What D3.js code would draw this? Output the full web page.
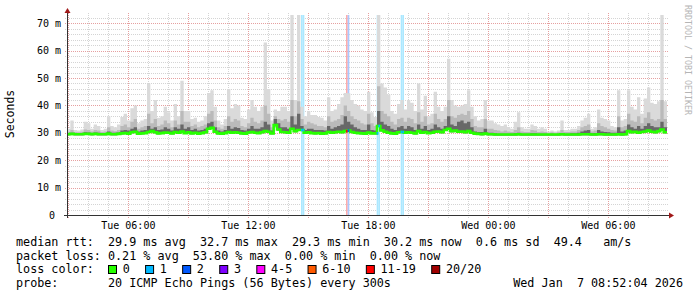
<!DOCTYPE html>
<html>
<head>
<meta charset="utf-8">
<script src="https://cdn.jsdelivr.net/npm/d3@7"></script>
<style>
  body { margin: 0; background: #fff; }
  svg text { font-family: "DejaVu Sans Mono", monospace; white-space: pre; }
</style>
</head>
<body>
<div id="chart"></div>
<script>
// smokeping round trip times in ms, one value per 10 minutes, Tue 02:56 .. Wed 08:56
const medianRtt = [
  29.5, 29.6, 29.5, 29.5, 29.5, 29.6, 29.6, 29.5, 29.6, 29.5,
  29.5, 29.5, 29.7, 29.5, 29.5, 29.6, 29.8, 29.9, 29.7, 30.2,
  30.4, 29.7, 29.8, 29.9, 30.3, 30.6, 30.2, 29.8, 29.9, 30.1,
  30.0, 29.8, 30.3, 30.0, 30.5, 29.9, 30.2, 29.8, 30.0, 29.7,
  29.9, 30.2, 31.5, 31.8, 30.4, 29.8, 29.7, 29.9, 30.3, 30.0,
  30.2, 30.0, 29.8, 29.7, 30.1, 30.3, 30.0, 29.9, 30.2, 30.6,
  30.4, 29.8, 32.8, 31.2, 30.3, 30.2, 30.0, 31.5, 30.6, 31.0,
  31.0, 30.0, 30.2, 29.9, 29.8, 29.9, 29.7, 29.8, 30.3, 30.0,
  30.2, 30.4, 30.2, 30.6, 30.8, 30.3, 30.0, 29.9, 29.8, 29.7,
  30.1, 29.8, 29.8, 32.5, 30.9, 30.4, 30.0, 29.8, 29.7, 30.2,
  30.3, 30.0, 30.2, 30.0, 29.8, 30.6, 30.0, 30.3, 29.9, 30.0,
  30.4, 30.5, 30.2, 31.0, 31.5, 30.6, 30.8, 30.4, 30.5, 30.2,
  30.6, 30.0, 29.7, 29.6, 29.5, 29.7, 29.5, 29.5, 29.4, 29.4,
  29.4, 29.4, 29.4, 29.4, 29.4, 29.5, 29.4, 29.4, 29.4, 29.4,
  29.4, 29.4, 29.4, 29.4, 29.4, 29.4, 29.4, 29.4, 29.5, 29.4,
  29.4, 29.4, 29.4, 29.4, 29.5, 29.5, 29.5, 29.4, 29.4, 29.5,
  29.5, 29.4, 29.4, 29.4, 29.4, 29.5, 29.4, 29.5, 30.6, 30.2,
  30.4, 30.0, 30.3, 30.5, 30.8, 30.4, 30.2, 30.6, 31.2, 30.2
];
const darkRtt = [
  29.9, 30.0, 29.9, 29.9, 29.9, 30.2, 30.1, 29.9, 30.1, 30.0,
  29.9, 29.9, 30.5, 30.0, 30.0, 30.1, 30.8, 31.0, 30.8, 31.5,
  32.0, 30.5, 30.8, 31.0, 32.5, 31.5, 32.0, 31.0, 31.2, 32.0,
  31.5, 30.8, 32.0, 31.5, 33.0, 31.5, 32.0, 31.0, 31.5, 30.8,
  31.0, 31.5, 33.5, 34.0, 32.0, 30.8, 30.5, 31.0, 32.5, 31.5,
  32.0, 31.8, 31.0, 30.8, 31.5, 32.5, 31.5, 31.5, 32.0, 34.0,
  33.0, 30.8, 35.0, 33.5, 32.0, 32.0, 31.5, 36.0, 33.0, 37.0,
  32.5, 31.0, 31.5, 31.5, 31.0, 31.0, 31.0, 30.8, 32.5, 31.5,
  32.0, 32.5, 33.0, 36.0, 34.0, 33.0, 32.0, 31.5, 31.0, 31.0,
  33.0, 31.0, 30.8, 38.0, 34.0, 33.0, 32.5, 31.5, 31.0, 32.0,
  32.5, 31.5, 32.5, 32.0, 31.0, 33.0, 31.5, 32.5, 31.0, 31.5,
  33.0, 32.0, 31.5, 32.5, 36.0, 33.0, 32.5, 34.0, 34.5, 33.5,
  34.0, 32.0, 30.5, 30.3, 30.3, 31.5, 30.0, 30.0, 29.8, 29.7,
  29.7, 29.7, 29.7, 29.7, 29.8, 30.0, 29.7, 29.7, 29.7, 29.8,
  29.8, 29.7, 29.7, 29.7, 29.6, 29.7, 29.6, 29.7, 29.9, 29.7,
  29.7, 29.8, 29.8, 30.0, 30.5, 30.8, 31.0, 29.8, 29.9, 31.0,
  30.5, 30.3, 30.2, 30.0, 30.0, 32.0, 30.5, 30.8, 33.0, 32.0,
  31.5, 32.5, 31.5, 32.5, 33.5, 32.5, 32.0, 32.0, 34.0, 32.0
];
const midRtt = [
  30.4, 31.0, 30.3, 30.2, 30.4, 31.2, 31.0, 30.5, 31.0, 30.8,
  30.3, 30.5, 32.0, 30.8, 30.6, 31.0, 32.5, 33.0, 32.0, 34.0,
  35.0, 31.5, 32.0, 32.5, 37.0, 33.5, 35.0, 32.5, 33.0, 34.5,
  33.5, 32.0, 34.5, 33.0, 38.0, 34.0, 34.0, 32.5, 33.0, 32.0,
  32.5, 33.0, 37.0, 38.0, 34.5, 32.0, 31.5, 32.5, 36.0, 34.0,
  35.0, 34.5, 32.5, 32.0, 33.5, 35.5, 34.0, 33.5, 34.5, 40.0,
  37.0, 32.0, 36.0, 35.0, 34.5, 35.0, 34.0, 42.0, 36.0, 41.5,
  35.0, 33.0, 34.0, 33.5, 33.0, 32.5, 32.5, 32.0, 36.0, 34.0,
  34.5, 35.0, 36.5, 40.0, 38.0, 36.0, 35.0, 34.5, 33.5, 33.0,
  37.0, 33.5, 32.5, 47.0, 38.0, 37.0, 36.0, 34.0, 33.0, 35.0,
  35.5, 34.0, 35.5, 35.0, 33.5, 37.5, 34.0, 36.0, 33.0, 33.5,
  37.0, 35.0, 34.0, 35.0, 42.0, 36.0, 35.5, 36.5, 37.0, 36.5,
  38.0, 35.0, 32.5, 32.0, 32.0, 35.0, 31.5, 31.5, 31.0, 30.8,
  30.5, 30.8, 30.5, 30.3, 31.0, 32.0, 30.5, 30.3, 30.3, 31.0,
  30.8, 30.3, 30.5, 30.3, 30.0, 30.2, 30.0, 30.2, 31.0, 30.3,
  30.3, 30.5, 30.5, 31.0, 32.0, 32.5, 33.0, 30.5, 30.8, 33.5,
  32.5, 32.0, 31.5, 31.0, 30.8, 36.0, 32.0, 32.5, 37.0, 34.5,
  34.0, 36.0, 33.5, 35.5, 37.5, 35.0, 34.5, 35.0, 42.0, 35.0
];
const maxRtt = [
  31.5, 34.5, 31.0, 30.8, 31.2, 34.0, 33.5, 31.5, 33.0, 32.5,
  31.0, 31.5, 36.0, 32.5, 32.0, 33.0, 35.8, 37.0, 34.5, 39.0,
  40.0, 33.5, 34.5, 35.0, 48.0, 38.0, 42.0, 35.5, 36.0, 39.5,
  37.5, 34.5, 40.5, 36.0, 49.0, 38.0, 38.0, 35.0, 35.5, 34.0,
  34.5, 36.0, 44.5, 45.5, 39.5, 34.5, 33.0, 35.0, 46.0, 39.0,
  40.5, 40.0, 35.5, 35.0, 38.5, 42.0, 39.5, 38.0, 39.5, 63.0,
  46.0, 34.5, 38.5, 38.0, 39.5, 39.5, 38.0, 74.0, 42.0, 74.0,
  39.5, 36.0, 38.0, 36.5, 36.5, 35.8, 35.5, 34.5, 43.0, 38.0,
  38.5, 40.5, 43.0, 44.5, 44.4, 42.0, 40.5, 40.0, 38.5, 38.0,
  45.0, 37.5, 35.8, 74.0, 48.0, 46.5, 44.0, 38.0, 37.0, 40.5,
  42.0, 38.5, 42.0, 41.0, 38.0, 48.0, 38.5, 43.5, 36.0, 37.0,
  45.0, 39.5, 38.0, 39.5, 57.0, 42.0, 40.0, 39.5, 40.0, 40.5,
  45.5, 39.5, 36.0, 34.5, 35.0, 42.0, 34.5, 34.5, 33.5, 33.0,
  32.5, 33.0, 32.0, 31.5, 34.0, 37.5, 32.0, 31.5, 31.5, 33.0,
  32.5, 31.5, 32.0, 31.5, 30.5, 30.8, 30.5, 30.8, 34.5, 31.0,
  31.0, 31.5, 31.5, 32.5, 34.5, 35.5, 37.0, 31.5, 32.0, 38.5,
  35.5, 35.0, 34.5, 32.5, 32.0, 45.5, 34.5, 35.0, 45.5, 39.5,
  38.5, 43.0, 37.0, 42.5, 46.5, 41.0, 40.5, 41.5, 74.0, 41.5
];

// 5 minute steps with lost pings (of 20)
const lossTimes = ["14:38", "14:43", "16:53", "16:58", "18:25", "18:30", "19:37", "19:42"];
const lossCounts = [1, 1, 12, 2, 1, 1, 1, 1];

const yTickValues = [0, 10, 20, 30, 40, 50, 60, 70];
const yTickLabels = ["0 ", "10 m", "20 m", "30 m", "40 m", "50 m", "60 m", "70 m"];

const lossLegend = ["0", "1", "2", "3", "4-5", "6-10", "11-19", "20/20"];
const lossColors = ["#26ff00", "#00b8ff", "#0059ff", "#7e00ff", "#ff00ff", "#ff5a00", "#ff0000", "#a00000"];

const rttLine = "median rtt:  29.9 ms avg  32.7 ms max  29.3 ms min  30.2 ms now  0.6 ms sd  49.4   am/s";
const lossLine = "packet loss: 0.21 % avg  53.80 % max  0.00 % min  0.00 % now";
const probeLine = "probe:       20 ICMP Echo Pings (56 Bytes) every 300s";
const stampLine = "Wed Jan  7 08:52:04 2026";

const W = 697, H = 297;
const plotLeft = 67, plotW = 600, plotTop = 15, plotH = 200;

const tStart = new Date(2026, 0, 6, 2, 56);
const tEnd = new Date(2026, 0, 7, 8, 56);

const x = d3.scaleTime().domain([tStart, tEnd]).range([plotLeft, plotLeft + plotW]);
const y = d3.scaleLinear().domain([0, 73]).range([plotTop + plotH, plotTop]);

const svg = d3.select("#chart").append("svg")
  .attr("width", W).attr("height", H)
  .style("display", "block");

svg.append("rect").attr("width", W).attr("height", H).attr("fill", "#fff");

svg.append("clipPath").attr("id", "plot")
  .append("rect").attr("x", plotLeft).attr("y", plotTop).attr("width", plotW).attr("height", plotH);

// grid
const grid = svg.append("g").attr("shape-rendering", "crispEdges");
const minorY = d3.range(2, 73, 2).filter(v => v % 10 != 0);
const majorY = yTickValues.filter(v => v > 0);
grid.selectAll(".hmin").data(minorY).join("line")
  .attr("x1", plotLeft - 2).attr("x2", plotLeft + plotW + 2)
  .attr("y1", d => Math.round(y(d)) + 0.5).attr("y2", d => Math.round(y(d)) + 0.5)
  .attr("stroke", "#d4d4d4").attr("stroke-dasharray", "1,1");
grid.selectAll(".hmaj").data(majorY).join("line")
  .attr("x1", plotLeft - 2).attr("x2", plotLeft + plotW + 2)
  .attr("y1", d => Math.round(y(d)) + 0.5).attr("y2", d => Math.round(y(d)) + 0.5)
  .attr("stroke", "#e6a0a0").attr("stroke-dasharray", "1,1");

const hours = d3.timeHour.range(d3.timeHour.ceil(tStart), tEnd);
grid.selectAll(".v").data(hours).join("line")
  .attr("x1", d => Math.round(x(d)) + 0.5).attr("x2", d => Math.round(x(d)) + 0.5)
  .attr("y1", plotTop - 2).attr("y2", plotTop + plotH + 3)
  .attr("stroke", d => d.getHours() % 3 == 0 ? "#e6a0a0" : "#d4d4d4")
  .attr("stroke-dasharray", "1,1");

const plot = svg.append("g").attr("clip-path", "url(#plot)");

function lossIndex(n) {
  if (n <= 3) return n;
  if (n <= 5) return 4;
  if (n <= 10) return 5;
  if (n <= 19) return 6;
  return 7;
}

const losses = lossTimes.map((s, i) => {
  const [hh, mm] = s.split(":").map(Number);
  const t = new Date(2026, 0, 6, hh, mm);
  return { t: t, t2: d3.timeMinute.offset(t, 5), n: lossCounts[i] };
});

// loss background bars
plot.selectAll(".lossbg").data(losses).join("rect")
  .attr("x", d => x(d.t)).attr("width", d => x(d.t2) - x(d.t))
  .attr("y", plotTop).attr("height", plotH)
  .attr("fill", d => d3.interpolateRgb("#ffffff", lossColors[lossIndex(d.n)])(0.33));

// smoke
const rows = medianRtt.map((m, i) => ({
  t: d3.timeMinute.offset(tStart, 10 * i),
  med: m, dark: darkRtt[i], mid: midRtt[i], max: maxRtt[i]
}));
rows.push(Object.assign({}, rows[rows.length - 1], { t: tEnd }));

const layers = [["max", "#dadada"], ["mid", "#bababa"], ["dark", "#686868"]];
layers.forEach(([key, col]) => {
  plot.append("path").datum(rows)
    .attr("fill", col)
    .attr("d", d3.area().curve(d3.curveStepAfter)
      .x(d => x(d.t)).y0(d => y(d.med) + 1).y1(d => y(d[key])));
});

// median line
plot.append("path").datum(rows)
  .attr("fill", "none").attr("stroke", lossColors[0]).attr("stroke-width", 2.6)
  .attr("d", d3.line().curve(d3.curveStepAfter).x(d => x(d.t)).y(d => y(d.med)));

function medianAt(t) {
  const i = Math.min(medianRtt.length - 1, Math.floor((t - tStart) / 600000));
  return medianRtt[i];
}
plot.selectAll(".lossmed").data(losses).join("line")
  .attr("x1", d => x(d.t)).attr("x2", d => x(d.t2))
  .attr("y1", d => y(medianAt(d.t))).attr("y2", d => y(medianAt(d.t)))
  .attr("stroke", d => lossColors[lossIndex(d.n)]).attr("stroke-width", 2.6);

// axes
const axisCol = "#333";
const arrowCol = "#a01818";
svg.append("line").attr("x1", plotLeft - 3).attr("x2", plotLeft + plotW + 2)
  .attr("y1", plotTop + plotH + 0.5).attr("y2", plotTop + plotH + 0.5)
  .attr("stroke", axisCol);
svg.append("line").attr("x1", plotLeft + 0.5).attr("x2", plotLeft + 0.5)
  .attr("y1", plotTop - 2).attr("y2", plotTop + plotH + 3)
  .attr("stroke", axisCol);
svg.append("path")
  .attr("d", `M${plotLeft + plotW + 7},${plotTop + plotH + 0.5} L${plotLeft + plotW + 2},${plotTop + plotH - 2.5} L${plotLeft + plotW + 2},${plotTop + plotH + 3.5} Z`)
  .attr("fill", arrowCol);
svg.append("path")
  .attr("d", `M${plotLeft + 0.5},${plotTop - 7} L${plotLeft - 2.5},${plotTop - 2} L${plotLeft + 3.5},${plotTop - 2} Z`)
  .attr("fill", arrowCol);

// tick labels
svg.selectAll(".ylab").data(yTickValues).join("text")
  .attr("x", 61).attr("y", d => y(d) + 3.6)
  .attr("text-anchor", "end").attr("font-size", 10)
  .text((d, i) => yTickLabels[i]);

const fmt = d3.timeFormat("%a %H:%M");
svg.selectAll(".xlab").data(d3.timeHour.every(6).range(tStart, tEnd)).join("text")
  .attr("x", d => x(d)).attr("y", 228.5)
  .attr("text-anchor", "middle").attr("font-size", 10)
  .text(d => fmt(d));

svg.append("text")
  .attr("transform", "translate(14,114) rotate(-90)")
  .attr("text-anchor", "middle").attr("font-size", 11.5)
  .text("Seconds");

svg.append("text")
  .attr("transform", "translate(685,5) rotate(90)")
  .attr("font-size", 8.3).attr("fill", "#b5b5b5")
  .text("RRDTOOL / TOBI OETIKER");

// legend
const fs = 11.75;
const legend = svg.append("g").attr("font-size", fs);
legend.append("text").attr("x", 16).attr("y", 245.8).text(rttLine);
legend.append("text").attr("x", 16).attr("y", 259.6).text(lossLine);
legend.append("text").attr("x", 16).attr("y", 273.4).text("loss color:");
legend.append("text").attr("x", 16).attr("y", 287.2).text(probeLine);
legend.append("text").attr("x", 683).attr("y", 287.2).attr("text-anchor", "end").text(stampLine);

let bx = 108;
lossLegend.forEach((lab, i) => {
  legend.append("rect")
    .attr("x", bx + 0.5).attr("y", 265.5).attr("width", 8).attr("height", 8)
    .attr("fill", lossColors[i]).attr("stroke", "#000");
  const t = legend.append("text").attr("x", bx + 14.7).attr("y", 273.4).text(lab);
  bx = bx + 14.7 + t.node().getComputedTextLength() + 15.3;
});
</script>
</body>
</html>
